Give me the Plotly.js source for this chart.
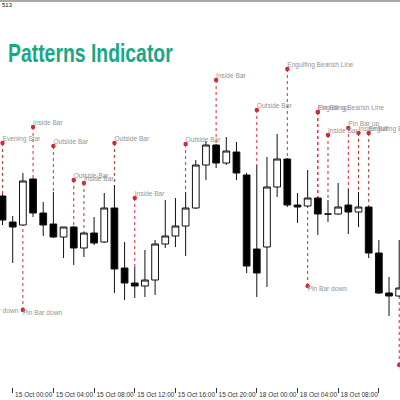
<!DOCTYPE html>
<html>
<head>
<meta charset="utf-8">
<script src="https://cdn.plot.ly/plotly-3.0.1.min.js"></script>
<style>html,body{margin:0;padding:0;background:#fff;}#chart{width:400px;height:400px;}</style>
</head>
<body>
<div id="chart"></div>
<script>
// hourly candles (14 Oct 23:00 .. 18 Oct 14:00)
const times = [
  "14 Oct 23:00",
  "15 Oct 00:00","15 Oct 01:00","15 Oct 02:00","15 Oct 03:00","15 Oct 04:00","15 Oct 05:00",
  "15 Oct 06:00","15 Oct 07:00","15 Oct 08:00","15 Oct 09:00","15 Oct 10:00","15 Oct 11:00",
  "15 Oct 12:00","15 Oct 13:00","15 Oct 14:00","15 Oct 15:00","15 Oct 16:00","15 Oct 17:00",
  "15 Oct 18:00","15 Oct 19:00","15 Oct 20:00","15 Oct 21:00","15 Oct 22:00","15 Oct 23:00",
  "18 Oct 00:00","18 Oct 01:00","18 Oct 02:00","18 Oct 03:00","18 Oct 04:00","18 Oct 05:00",
  "18 Oct 06:00","18 Oct 07:00","18 Oct 08:00","18 Oct 09:00","18 Oct 10:00","18 Oct 11:00",
  "18 Oct 12:00","18 Oct 13:00","18 Oct 14:00"
];
const openP  = [1.16134,1.16108,1.16105,1.16151,1.16117,1.16106,1.16093,1.16103,1.16082,1.16097,
                1.16088,1.16122,1.16062,1.16047,1.16044,1.16050,1.16086,1.16094,1.16104,1.16122,
                1.16165,1.16185,1.16167,1.16178,1.16155,1.16081,1.16083,1.16143,1.16171,1.16125,
                1.16124,1.16132,1.16116,1.16116,1.16125,1.16118,1.16123,1.16077,1.16037,1.16034];
const highP  = [1.16136,1.16114,1.16157,1.16152,1.16128,1.16138,1.16103,1.16104,1.16098,1.16113,
                1.16137,1.16145,1.16088,1.16063,1.16080,1.16090,1.16130,1.16132,1.16138,1.16170,
                1.16189,1.16186,1.16193,1.16188,1.16157,1.16165,1.16173,1.16196,1.16172,1.16137,
                1.16160,1.16133,1.16130,1.16147,1.16141,1.16138,1.16124,1.16090,1.16053,1.16090];
const lowP   = [1.16105,1.16067,1.16104,1.16113,1.16094,1.16092,1.16072,1.16065,1.16073,1.16085,
                1.16087,1.16037,1.16030,1.16032,1.16033,1.16035,1.16082,1.16083,1.16074,1.16121,
                1.16150,1.16162,1.16165,1.16150,1.16057,1.16033,1.16043,1.16133,1.16123,1.16107,
                1.16123,1.16095,1.16108,1.16115,1.16096,1.16103,1.16072,1.16036,1.16014,1.16033];
const closeP = [1.16110,1.16103,1.16149,1.16117,1.16105,1.16093,1.16103,1.16082,1.16097,1.16087,
                1.16122,1.16061,1.16047,1.16044,1.16050,1.16086,1.16094,1.16104,1.16122,1.16165,
                1.16185,1.16167,1.16179,1.16157,1.16064,1.16057,1.16143,1.16171,1.16125,1.16123,
                1.16132,1.16116,1.16116,1.16123,1.16118,1.16123,1.16077,1.16037,1.16034,1.16042];

// pattern markers: candle index, marker price, label, side
const patIdx   = [-2.3, 0, 2, 3, 5, 7, 8, 11, 13, 18, 21, 25, 28, 30, 31, 31, 32, 34, 35, 36, 39];
const patPrice = [1.16022,1.16187,1.16020,1.16203,1.16184,1.16150,1.16147,1.16187,1.16132,1.16186,
                  1.16250,1.16220,1.16261,1.16044,1.16218,1.16218,1.16195,1.16202,1.16197,1.16197,1.15965];
const patText  = ["Pin Bar down","Evening Star","Pin Bar down","Inside Bar","Outside Bar","Outside Bar",
                  "Inside Bar","Outside Bar","Inside Bar","Outside Bar","Inside Bar","Outside Bar",
                  "Engulfing Bearish Line","Pin Bar down","Engulfing Bearish Line","Pin Bar up",
                  "Inside Bar","Pin Bar up","Inside Bar","Engulfing Bearish Line","Pin Bar down"];
const patSide  = ["down","up","down","up","up","up","up","up","up","up","up","up","up","down",
                  "up","up","up","up","up","up","down"];

const tickIdx = [1,5,9,13,17,21,25,29,33,37];

const xIdx = times.map((t,i)=>i);

// dotted connector lines from candle extreme to marker
const lx = [], ly = [];
patIdx.forEach((ci,k)=>{
  if (ci < 0 || ci >= times.length || ci !== Math.round(ci)) return;
  const end = patSide[k] === "up" ? highP[ci] : lowP[ci];
  lx.push(ci, ci, null); ly.push(patPrice[k], end, null);
});

function pick(side, arr){ return arr.filter((v,k)=>patSide[k]===side); }

const red = "#d42a35";
const labelFont = {family:"Liberation Sans, Arial, sans-serif", size:6.6, color:"#949494"};

const traces = [
  {type:"scatter", mode:"lines", x:lx, y:ly, line:{color:red, width:1, dash:"dot"}, hoverinfo:"skip"},
  {type:"candlestick", x:xIdx, open:openP, high:highP, low:lowP, close:closeP,
   increasing:{line:{color:"#111", width:1}, fillcolor:"#ffffff"},
   decreasing:{line:{color:"#111", width:1}, fillcolor:"#000000"},
   whiskerwidth:0, hoverinfo:"skip"},
  {type:"scatter", mode:"markers", x:patIdx, y:patPrice, marker:{color:red, size:4.5}, hoverinfo:"skip"},
  {type:"scatter", mode:"text", x:pick("up",patIdx), y:pick("up",patPrice), text:pick("up",patText),
   textposition:"top right", textfont:labelFont, hoverinfo:"skip"},
  {type:"scatter", mode:"text", x:pick("down",patIdx), y:pick("down",patPrice), text:pick("down",patText),
   textposition:"bottom right", textfont:labelFont, hoverinfo:"skip"}
];

const layout = {
  width:400, height:400,
  margin:{l:0, r:0, t:1, b:13},
  paper_bgcolor:"#ffffff", plot_bgcolor:"#ffffff",
  showlegend:false, hovermode:false,
  boxgap:0.22, boxgroupgap:0.15,
  title:{text:"Patterns Indicator", xref:"container", yref:"container", x:0.02, xanchor:"left",
         y:1-53/400, yanchor:"middle",
         font:{family:"Liberation Sans, Arial, sans-serif", size:25, weight:"bold", color:"#17a884"}},
  xaxis:{type:"linear", range:[-0.25, 39.08], showgrid:false, zeroline:false, showline:false,
         rangeslider:{visible:false},
         tickmode:"array", tickvals:tickIdx, ticktext:tickIdx.map(i=>times[i]),
         ticks:"outside", ticklen:5, tickwidth:1, tickcolor:"#333",
         ticklabelshift:21, ticklabelstandoff:-4,
         tickfont:{family:"Liberation Sans, Arial, sans-serif", size:6.5, color:"#333"}},
  yaxis:{range:[1.15943, 1.16329], visible:false, showgrid:false, zeroline:false},
  shapes:[{type:"line", xref:"paper", yref:"paper", x0:0, x1:1, y0:1, y1:1, line:{color:"#555", width:1.2}}],
  annotations:[{text:"513", xref:"paper", yref:"paper", x:0, y:0.99, xanchor:"left", yanchor:"middle",
                showarrow:false, font:{family:"Liberation Sans, Arial, sans-serif", size:6, color:"#111"}}]
};

Plotly.newPlot("chart", traces, layout, {displayModeBar:false, staticPlot:true}).then(()=>{
  // condense the title horizontally to match the narrow heavy typeface
  const t = document.querySelector(".gtitle");
  if (t) {
    const bb = t.getBBox();
    const s = 165 / bb.width;
    t.setAttribute("transform", `translate(${bb.x},0) scale(${s},1) translate(${-bb.x},0)`);
  }
});
</script>
</body>
</html>
